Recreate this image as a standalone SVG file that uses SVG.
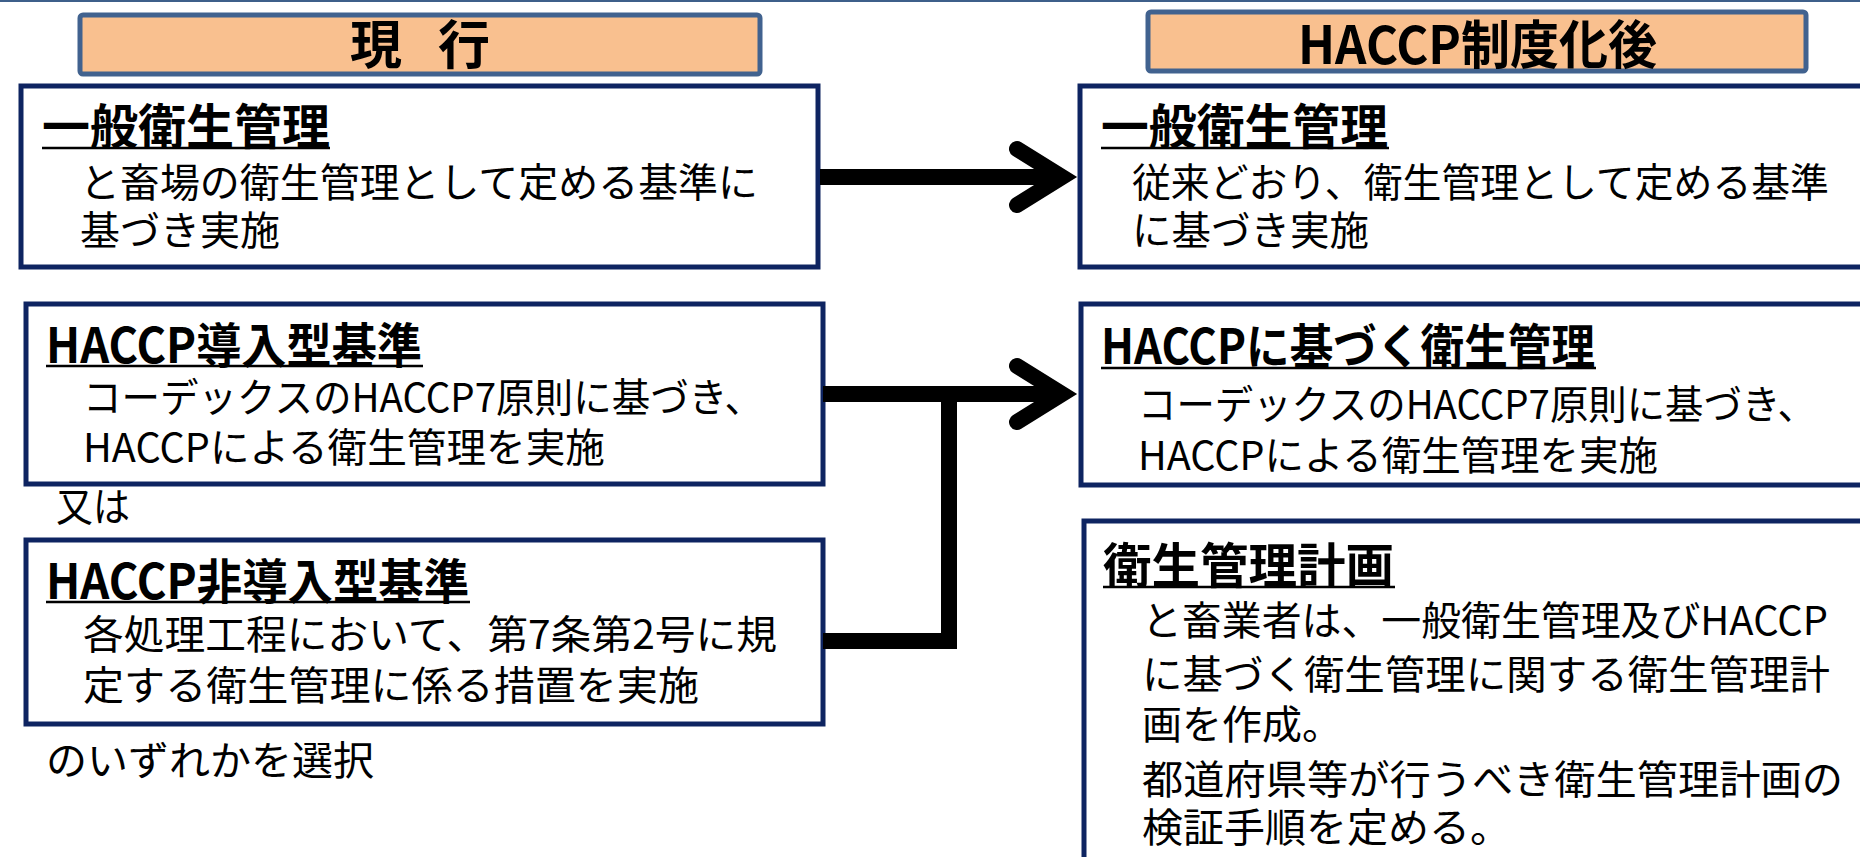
<svg xmlns="http://www.w3.org/2000/svg" width="1860" height="857" viewBox="0 0 1860 857">
<defs>
<style>
.hdr{fill:#F9C08F;stroke:#41628F;stroke-width:5}
.box{fill:#FFFFFF;stroke:#0E2461;stroke-width:5}
text{font-family:"Noto Sans CJK JP","Noto Sans",sans-serif;fill:#000}
.ht{font-size:52px;font-weight:bold}
.tt{font-size:48px;font-weight:bold}
.bt{font-size:40px}
.ul{stroke:#000;stroke-width:2.5}
.con{fill:none;stroke:#000;stroke-width:16}
.head{fill:none;stroke:#000;stroke-width:16;stroke-linecap:round;stroke-linejoin:miter}
</style>
</defs>
<rect x="0" y="0" width="1860" height="857" fill="#FFFFFF"/>
<rect x="0" y="0" width="1860" height="2" fill="#3E5F8A"/>

<g id="header-current">
<rect class="hdr" x="80" y="15" width="680" height="59" rx="3"/>
<text class="ht" x="376" y="64" text-anchor="middle">現</text>
<text class="ht" x="464" y="64" text-anchor="middle">行</text>
</g>

<g id="header-after">
<rect class="hdr" x="1148" y="12" width="658" height="59" rx="3"/>
<text class="ht" x="1298" y="64" textLength="359" lengthAdjust="spacingAndGlyphs">HACCP制度化後</text>
</g>

<g id="current-general">
<rect class="box" x="21" y="86" width="797" height="181"/>
<text class="tt" x="42" y="144" textLength="288" lengthAdjust="spacingAndGlyphs">一般衛生管理</text>
<line class="ul" x1="42" y1="148" x2="330" y2="148"/>
<text class="bt" x="80" y="197" textLength="678" lengthAdjust="spacingAndGlyphs">と畜場の衛生管理として定める基準に</text>
<text class="bt" x="80" y="245" textLength="200" lengthAdjust="spacingAndGlyphs">基づき実施</text>
</g>

<g id="current-haccp">
<rect class="box" x="26" y="304" width="797" height="180"/>
<text class="tt" x="46" y="363" textLength="376" lengthAdjust="spacingAndGlyphs">HACCP導入型基準</text>
<line class="ul" x1="46" y1="366" x2="423" y2="366"/>
<text class="bt" x="83" y="412" textLength="680" lengthAdjust="spacingAndGlyphs">コーデックスのHACCP7原則に基づき、</text>
<text class="bt" x="83" y="462" textLength="522" lengthAdjust="spacingAndGlyphs">HACCPによる衛生管理を実施</text>
</g>

<g id="label-or">
<text class="bt" x="56" y="521" textLength="74" lengthAdjust="spacingAndGlyphs">又は</text>
</g>

<g id="current-non-haccp">
<rect class="box" x="26" y="540" width="797" height="184"/>
<text class="tt" x="46" y="599" textLength="423" lengthAdjust="spacingAndGlyphs">HACCP非導入型基準</text>
<line class="ul" x1="46" y1="602" x2="470" y2="602"/>
<text class="bt" x="83" y="649" textLength="694" lengthAdjust="spacingAndGlyphs">各処理工程において、第7条第2号に規</text>
<text class="bt" x="83" y="700" textLength="616" lengthAdjust="spacingAndGlyphs">定する衛生管理に係る措置を実施</text>
</g>

<g id="label-select">
<text class="bt" x="46" y="775" textLength="328" lengthAdjust="spacingAndGlyphs">のいずれかを選択</text>
</g>

<g id="after-general">
<rect class="box" x="1080" y="86" width="800" height="181"/>
<text class="tt" x="1101" y="144" textLength="287" lengthAdjust="spacingAndGlyphs">一般衛生管理</text>
<line class="ul" x1="1101" y1="148" x2="1389" y2="148"/>
<text class="bt" x="1132" y="197" textLength="697" lengthAdjust="spacingAndGlyphs">従来どおり、衛生管理として定める基準</text>
<text class="bt" x="1132" y="245" textLength="237" lengthAdjust="spacingAndGlyphs">に基づき実施</text>
</g>

<g id="after-haccp">
<rect class="box" x="1081" y="304" width="800" height="181"/>
<text class="tt" x="1101" y="364" textLength="494" lengthAdjust="spacingAndGlyphs">HACCPに基づく衛生管理</text>
<line class="ul" x1="1101" y1="368" x2="1596" y2="368"/>
<text class="bt" x="1138" y="419" textLength="678" lengthAdjust="spacingAndGlyphs">コーデックスのHACCP7原則に基づき、</text>
<text class="bt" x="1138" y="470" textLength="520" lengthAdjust="spacingAndGlyphs">HACCPによる衛生管理を実施</text>
</g>

<g id="after-plan">
<rect class="box" x="1084" y="521" width="800" height="360"/>
<text class="tt" x="1103" y="583" textLength="291" lengthAdjust="spacingAndGlyphs">衛生管理計画</text>
<line class="ul" x1="1103" y1="587" x2="1395" y2="587"/>
<text class="bt" x="1142" y="635" textLength="686" lengthAdjust="spacingAndGlyphs">と畜業者は、一般衛生管理及びHACCP</text>
<text class="bt" x="1142" y="689" textLength="688" lengthAdjust="spacingAndGlyphs">に基づく衛生管理に関する衛生管理計</text>
<text class="bt" x="1142" y="739" textLength="200" lengthAdjust="spacingAndGlyphs">画を作成。</text>
<text class="bt" x="1142" y="794" textLength="701" lengthAdjust="spacingAndGlyphs">都道府県等が行うべき衛生管理計画の</text>
<text class="bt" x="1142" y="842" textLength="369" lengthAdjust="spacingAndGlyphs">検証手順を定める。</text>
</g>

<g id="connectors">
<line class="con" x1="820" y1="177" x2="1062" y2="177"/>
<polyline class="head" points="1017,149 1062,177 1017,205"/>
<line class="con" x1="823" y1="394" x2="1062" y2="394"/>
<polyline class="head" points="1017,366 1062,394 1017,422"/>
<polyline class="con" stroke-linejoin="miter" points="823,641 949,641 949,394"/>
</g>
</svg>
